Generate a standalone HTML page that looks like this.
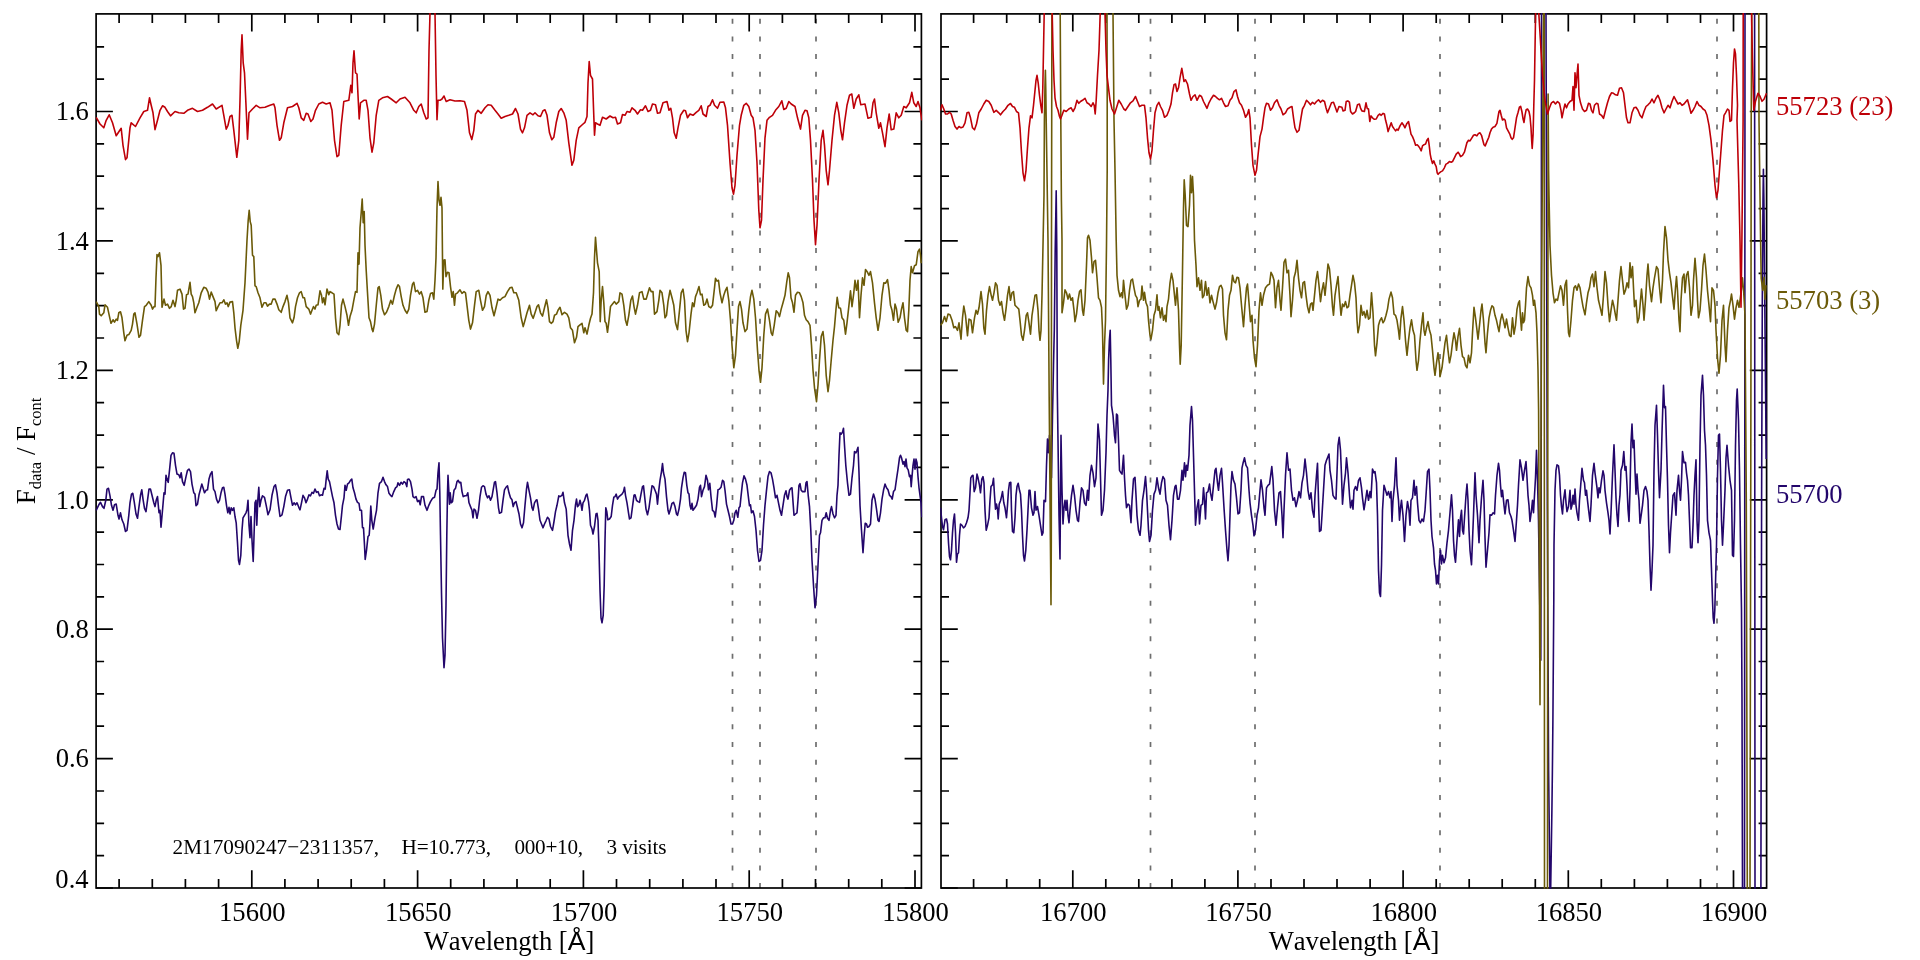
<!DOCTYPE html>
<html><head><meta charset="utf-8"><title>Spectra</title>
<style>
html,body{margin:0;padding:0;background:#fff;}
svg{display:block;}
text{font-family:"Liberation Serif","Times New Roman",serif;font-kerning:none;}
svg{will-change:transform;}
</style></head><body>
<svg width="1920" height="960" viewBox="0 0 1920 960">
<defs>
<clipPath id="c1"><rect x="95.3" y="13.1" width="826.90" height="875.70"/></clipPath>
<clipPath id="c2"><rect x="940.2" y="13.1" width="827.20" height="875.70"/></clipPath>
</defs>
<g stroke="#6e6e6e" stroke-width="1.7" stroke-dasharray="5 12.64" fill="none">
<line x1="732.5" y1="18.75" x2="732.5" y2="888.0"/>
<line x1="760" y1="18.75" x2="760" y2="888.0"/>
<line x1="816" y1="18.75" x2="816" y2="888.0"/>
<line x1="1150.5" y1="18.75" x2="1150.5" y2="888.0"/>
<line x1="1255" y1="18.75" x2="1255" y2="888.0"/>
<line x1="1440" y1="18.75" x2="1440" y2="888.0"/>
<line x1="1717" y1="18.75" x2="1717" y2="888.0"/>
</g>
<path d="M119.1 13.9V23M119.1 888V878.9M152.3 13.9V23M152.3 888V878.9M185.4 13.9V23M185.4 888V878.9M218.6 13.9V23M218.6 888V878.9M251.8 13.9V31.6M251.8 888V870.3M284.9 13.9V23M284.9 888V878.9M318.1 13.9V23M318.1 888V878.9M351.2 13.9V23M351.2 888V878.9M384.4 13.9V23M384.4 888V878.9M417.6 13.9V31.6M417.6 888V870.3M450.7 13.9V23M450.7 888V878.9M483.9 13.9V23M483.9 888V878.9M517 13.9V23M517 888V878.9M550.2 13.9V23M550.2 888V878.9M583.4 13.9V31.6M583.4 888V870.3M616.5 13.9V23M616.5 888V878.9M649.7 13.9V23M649.7 888V878.9M682.9 13.9V23M682.9 888V878.9M716 13.9V23M716 888V878.9M749.2 13.9V31.6M749.2 888V870.3M782.4 13.9V23M782.4 888V878.9M815.5 13.9V23M815.5 888V878.9M848.7 13.9V23M848.7 888V878.9M881.8 13.9V23M881.8 888V878.9M915 13.9V31.6M915 888V870.3M96.1 888H112.9M921.4 888H904.6M96.1 855.7H104.1M921.4 855.7H913.4M96.1 823.3H104.1M921.4 823.3H913.4M96.1 791H104.1M921.4 791H913.4M96.1 758.6H112.9M921.4 758.6H904.6M96.1 726.2H104.1M921.4 726.2H913.4M96.1 693.9H104.1M921.4 693.9H913.4M96.1 661.5H104.1M921.4 661.5H913.4M96.1 629.2H112.9M921.4 629.2H904.6M96.1 596.8H104.1M921.4 596.8H913.4M96.1 564.5H104.1M921.4 564.5H913.4M96.1 532.1H104.1M921.4 532.1H913.4M96.1 499.8H112.9M921.4 499.8H904.6M96.1 467.4H104.1M921.4 467.4H913.4M96.1 435.1H104.1M921.4 435.1H913.4M96.1 402.7H104.1M921.4 402.7H913.4M96.1 370.3H112.9M921.4 370.3H904.6M96.1 338H104.1M921.4 338H913.4M96.1 305.6H104.1M921.4 305.6H913.4M96.1 273.3H104.1M921.4 273.3H913.4M96.1 240.9H112.9M921.4 240.9H904.6M96.1 208.6H104.1M921.4 208.6H913.4M96.1 176.2H104.1M921.4 176.2H913.4M96.1 143.9H104.1M921.4 143.9H913.4M96.1 111.5H112.9M921.4 111.5H904.6M96.1 79.1H104.1M921.4 79.1H913.4M96.1 46.8H104.1M921.4 46.8H913.4M973.6 13.9V23M973.6 888V878.9M1006.7 13.9V23M1006.7 888V878.9M1039.7 13.9V23M1039.7 888V878.9M1072.8 13.9V31.6M1072.8 888V870.3M1105.8 13.9V23M1105.8 888V878.9M1138.8 13.9V23M1138.8 888V878.9M1171.9 13.9V23M1171.9 888V878.9M1204.9 13.9V23M1204.9 888V878.9M1237.9 13.9V31.6M1237.9 888V870.3M1271 13.9V23M1271 888V878.9M1304 13.9V23M1304 888V878.9M1337 13.9V23M1337 888V878.9M1370.1 13.9V23M1370.1 888V878.9M1403.1 13.9V31.6M1403.1 888V870.3M1436.2 13.9V23M1436.2 888V878.9M1469.2 13.9V23M1469.2 888V878.9M1502.2 13.9V23M1502.2 888V878.9M1535.3 13.9V23M1535.3 888V878.9M1568.3 13.9V31.6M1568.3 888V870.3M1601.3 13.9V23M1601.3 888V878.9M1634.4 13.9V23M1634.4 888V878.9M1667.4 13.9V23M1667.4 888V878.9M1700.5 13.9V23M1700.5 888V878.9M1733.5 13.9V31.6M1733.5 888V870.3M941 888H957.8M1766.6 888H1749.8M941 855.7H949M1766.6 855.7H1758.6M941 823.3H949M1766.6 823.3H1758.6M941 791H949M1766.6 791H1758.6M941 758.6H957.8M1766.6 758.6H1749.8M941 726.2H949M1766.6 726.2H1758.6M941 693.9H949M1766.6 693.9H1758.6M941 661.5H949M1766.6 661.5H1758.6M941 629.2H957.8M1766.6 629.2H1749.8M941 596.8H949M1766.6 596.8H1758.6M941 564.5H949M1766.6 564.5H1758.6M941 532.1H949M1766.6 532.1H1758.6M941 499.8H957.8M1766.6 499.8H1749.8M941 467.4H949M1766.6 467.4H1758.6M941 435.1H949M1766.6 435.1H1758.6M941 402.7H949M1766.6 402.7H1758.6M941 370.3H957.8M1766.6 370.3H1749.8M941 338H949M1766.6 338H1758.6M941 305.6H949M1766.6 305.6H1758.6M941 273.3H949M1766.6 273.3H1758.6M941 240.9H957.8M1766.6 240.9H1749.8M941 208.6H949M1766.6 208.6H1758.6M941 176.2H949M1766.6 176.2H1758.6M941 143.9H949M1766.6 143.9H1758.6M941 111.5H957.8M1766.6 111.5H1749.8M941 79.1H949M1766.6 79.1H1758.6M941 46.8H949M1766.6 46.8H1758.6" stroke="#000" stroke-width="1.7" fill="none"/>
<rect x="96.1" y="13.9" width="825.3" height="874.1" fill="none" stroke="#000" stroke-width="1.7"/>
<rect x="941.0" y="13.9" width="825.5999999999999" height="874.1" fill="none" stroke="#000" stroke-width="1.7"/>
<polyline clip-path="url(#c1)" points="96.2,510.3 98.8,504.8 100.5,502.3 102.5,506.6 104,508.3 105.8,500.3 107,489.1 108.5,488.3 110,495.8 111.5,505.3 113,510.3 114.5,504.8 116.2,504.1 118,515.3 119,519 120.5,512.8 122,519.8 123.8,524 125.5,531.5 127,530.3 128.8,515.3 130,502.8 131.5,494.1 132.8,493.3 134.2,501.6 136,514 137.5,518.3 139,506.6 140.5,495.3 141.8,489.8 143,499.1 144.5,508.3 146,511.6 147.5,500.3 149,489.1 150.5,489.1 152,495.3 153.8,502.8 155,506.6 156.2,500.3 157.5,496.6 159,512.8 160,510.3 161,527.3 162.5,510.3 164,492.8 165,494.1 166,475.3 167,479.1 168.2,482.3 169.5,470.3 171,455.3 172.5,452.8 174,453.3 175.5,465.3 177,474.1 178.8,474.8 180,477.8 181.2,472.8 182.5,481.6 184.2,485.3 186,476.6 187.5,470.3 189,469.1 190.5,471.6 192,484.1 193.8,492.8 195,494.1 196,505.8 197.5,504.1 199,494.8 200.5,489.1 201.8,484.1 203,487.8 204.5,492.8 206,490.3 207.5,489.8 209,479.1 210.5,474.1 212,471.6 213.5,489.1 215,491.6 216.5,499.1 218,502.8 219.5,500.3 221,492.8 222.5,487.8 223.8,487.3 225,494.1 226.5,505.3 227.8,512.8 229,507.3 230,514 231.2,507.8 232.5,510.3 233.8,507.8 235,516.5 236.2,522.8 237.5,542.8 238.5,560.3 239.5,564.5 240.8,555.3 242,530.3 243,517.8 244.5,515.3 246,512.8 247,509.8 248,500.3 249,525.3 250,537.8 251,516.5 252,540.3 253.2,561.5 254.2,530.3 255,502.8 256,500.3 256.8,525.3 257.8,500.3 258.8,487.3 259.8,506.6 261,500.3 262.5,495.8 264.5,497.3 266.2,505.3 268,514.8 270,509.8 272,495.3 274,486.6 275.5,484.8 277,492.8 278.5,505.3 280,516.5 282,514.8 283.8,506.6 285.5,496.6 287.5,490.3 289.5,489.8 291,497.8 292.5,505.3 294,502.8 295.5,504.8 297,502.8 298.8,507.3 300,509.8 301.5,502.8 303,495.3 304.5,497.8 306,502.8 307.5,499.1 309,494.8 310.5,495.8 312,492.3 313.5,493.3 315,489.1 316.5,492.3 318,491.6 319.5,495.8 321,494.8 322.5,495.3 324,488.3 325.2,489.1 326.2,479.1 327.2,470.8 328.2,479.1 329.5,481.6 331,489.1 332.5,496.6 334,502.8 335.5,515.3 337,524 338.5,529 340,529.5 341.5,515.3 342.5,505.3 344,497.8 345,485.3 346.2,490.3 347.5,484.1 349,482.8 350.5,480.3 351.8,479.1 353,487.8 354.5,492.8 356,499.1 357.5,502.3 359,503.3 360,510.3 361.5,510.3 362.5,527.8 363.5,527.8 364.5,545.3 365.2,559.5 366.5,550.3 368,536.5 369.2,535.3 370,522.8 370.8,506.1 371.8,520.3 373.2,529 375,517.8 376.5,510.3 378,492.8 379.5,483.3 381.5,481.6 383,477.3 384.5,481.6 386,484.8 387.5,486.6 389,493.3 390.5,495.3 392,496.6 393.8,491.6 395.5,487.8 397,486.6 398,482.8 399.5,485.3 401,482.3 402.5,484.1 404,481.6 405.5,482.8 406.8,486.6 407.5,479.6 409,479.1 410.5,481.6 412,489.1 413,496.6 414.5,497.8 416,496.6 417.5,501.6 419,500.3 420.2,504.8 421.5,496.6 423.5,496.6 425,505.3 427,510.3 428.8,505.3 430.5,501.6 432.5,498.3 434.5,497.3 436,490.3 437,489.1 438,472.8 439,462.8 439.8,492.8 440.5,535.3 441.5,592.8 442.5,637.8 444,667.8 445,655.3 446,605.3 446.8,535.3 447.5,492.8 448,475.3 448.8,490.3 449.5,504.1 450.2,492.8 451.2,502.8 452.5,501.6 454,490.3 455.5,488.3 457,481.6 458.2,480.3 459.5,482.8 460.8,482.3 462,491.6 463.2,496.6 465,495.8 466.5,495.8 467.8,492.8 469,502.8 470.5,506.6 472,510.3 473,517.8 474,509.1 475.5,510.3 477,518.3 478.5,510.3 480,496.6 481.5,487.3 483,485.8 484.5,486.6 486,494.1 487.5,497.8 489,495.8 490.5,500.3 492,496.6 493.5,487.8 494.5,482.1 495.5,481.6 497,492.8 498.5,507.8 499.5,513.3 501.5,512.3 503,500.3 504.5,489.8 506,487.3 507.5,485.8 509,492.8 510.5,497.8 512,499.8 513.2,506.6 514.5,502.8 516,501.6 517.5,507.8 519,514 520.5,524 522,527.8 523.5,522.8 525,505.3 526.5,489.1 527.5,482.3 529,490.3 530.5,497.8 532,507.8 533,510.3 534.5,502.8 536,500.3 537,499.8 538.5,509.1 540,520.3 541.5,524 543,527.8 544.5,524 546,520.8 547.5,517.3 549,519 550.5,526.5 552.5,530.3 554,521.5 555.5,511.6 557,505.3 558.8,495.8 560,496.6 562,495.3 563,492.3 564.5,502.8 566.2,509.1 568,535.3 569.5,544 571,550.3 572.5,530.3 574,520.3 575.5,504.8 576.5,499.1 577.5,506.6 578.8,505.3 580,500.3 581,504.1 582,510.3 583,502.8 584.5,500.3 586,495.3 587,494.1 588.5,501.6 589.5,510.3 590.5,525.3 592,529 593,534 594.5,526.5 596,514 597,513.3 598,520.3 599,550.3 600,590.3 601,617.8 602,622.8 603.2,615.3 604.2,585.3 605,540.3 605.8,507.8 606.8,511.6 607.8,519.8 609.5,519 611.2,516.5 612.5,505.3 613.8,497.3 615,496.6 616.2,494.1 617.5,499.1 619,496.6 620.5,495.3 622,494.1 623.5,491.6 624.5,487.3 625.5,495.3 627,502.8 628.5,512.8 629.5,519 631,517.8 632.5,506.6 634,495.3 635,494.8 636.5,500.3 638,501.6 639.5,502.3 641,494.1 642.5,486.6 643.5,485.8 644.5,495.3 646,509.1 647.5,514.8 649,507.8 650.5,496.6 652,485.8 653.5,486.6 655,490.3 656.5,494.1 657.5,504.1 658.8,490.3 660,480.3 661.5,471.6 662.5,463.6 663.5,472.8 665,479.1 666.5,496.6 668,510.3 669,514 670.5,509.1 672,503.3 673.5,502.3 675,506.6 676.5,514 677.5,515.3 679,509.1 680.5,499.1 681.5,487.8 683,477.8 684.2,472.3 685.5,472.8 686.8,485.3 688,492.8 689,494.1 690,505.3 691,509.1 692,503.3 693,510.3 694.5,508.3 696.5,505.3 698,499.1 699.5,487.3 700.5,485.3 701.5,496.6 703,490.3 704.5,486.6 706,475.3 707.5,480.3 708.5,489.8 709.8,483.3 711,496.6 712.5,510.3 714,511.6 715.2,517 716.5,506.6 718,489.8 719.5,489.1 721,487.3 722.5,480.3 723.8,481.6 725,490.3 726.5,504.1 728,510.3 729.5,516.5 731,524 732.5,524 733.8,520.3 735,512.8 736.2,510.3 737.8,517.3 739,507.8 740,506.6 741,496.6 742.5,482.8 744,475.8 745.5,479.1 747,485.3 748.5,497.8 749.5,505.8 750.5,504.8 751.5,512.8 753,510.8 754.5,516.5 756,530.3 757.5,550.3 759,561.5 760.5,560.3 762,550.3 763.5,525.3 765,505.3 766.5,490.3 768,476.6 769.5,471.6 771,472.8 772.5,479.1 774,487.8 775.5,497.8 777,495.3 778.5,502.8 780,510.3 781.5,515.3 783,505.3 784.5,495.3 786,490.8 787,496.6 788,499.1 789.5,490.3 791,488.3 792,487.8 793,501.6 794,515.3 795.5,514 797,512.8 798,500.3 799,485.3 800,483.6 801.2,490.3 802.5,491.6 803.8,491.6 805,491.6 806,482.8 807,481.6 808.2,495.3 809.5,506.6 810.8,530.3 812,560.3 813.5,585.3 815,607.8 816.5,595.3 818,565.3 819.5,535.3 820.5,532.8 822,520.3 823.5,517.8 825,517.8 826.2,512.8 827.5,518.3 829,520.3 830.5,510.3 831.5,506.6 833,514 834.5,517.8 836,515.3 837,495.3 838,485.3 839,455.3 840,432.8 841.2,434.1 842.5,432.3 843.5,428.3 844.5,445.3 845.8,465.3 847.5,482.8 849,495.3 850.5,494.1 852,477.8 853.5,465.3 854.5,451.6 856,452.8 857,450.3 858,447.3 859,472.8 860,505.3 861.5,530.3 863,552.8 864.2,535.3 865.2,523.3 866.5,524 867.5,527.3 869,526.5 870.5,524 872,500.3 873.5,494.1 875,499.1 876.5,509.1 878,520.3 879,521.5 880.5,512.8 882,499.1 883.5,490.3 885,484.1 886.5,487.8 888,489.8 889.5,495.3 891,496.6 892.2,499.1 893.5,491.6 895,489.8 896.5,479.1 898,469.1 899.5,457.8 900.5,455.3 901.5,457.8 903,464.1 904,461.6 905,466.6 906,459.1 907,467.8 908.2,469.8 909.5,476.6 910.5,475.3 911.2,486.6 912,476.6 913,465.3 914,459.1 915,469.1 916,459.1 917,462.8 918,476.6 919,487.8 920,495.3 921,502.8 921.8,517.3" fill="none" stroke="#23066b" stroke-width="1.6" stroke-linejoin="round" stroke-linecap="butt"/>
<polyline clip-path="url(#c2)" points="940.5,507.8 941.5,517.8 942.5,526.5 943.5,529.8 945,519.8 946.5,519 947.5,524 948.5,542.8 949.5,556.5 950.5,559.8 951.5,550.3 952.5,532.8 953.5,520.3 954.5,514 955.5,532.8 956.5,562.3 957.5,554 958.5,552.8 959.5,535.3 960.5,524 962,525.3 963.5,527.8 965,526.5 966.5,522.8 968,517.8 969,510.3 970,492.8 970.8,477.8 972,475.8 973,475.3 974.2,491.6 975.5,487.8 977,474.1 978,477.8 979.5,485.3 980.5,492.8 981.8,479.1 983,476.6 984,482.8 985,510.3 986.2,530.3 987.5,525.3 989,517.8 990,500.3 991,486.6 992.5,484.8 993.5,478.3 994.5,495.3 995.5,509.1 996.5,504.1 997.5,509.1 998.2,519 999.2,504.1 1000.5,500.8 1001.5,496.6 1002.5,491.6 1003.8,502.8 1005,507.8 1006.5,517.8 1007.5,505.3 1008.5,490.3 1009.5,482.8 1010.8,482.3 1011.5,510.3 1012.5,531.5 1013.8,532.8 1015,517.8 1016,495.3 1017,486.6 1018.2,483.3 1019.5,490.3 1020.5,494.1 1021.5,510.3 1022.5,535.3 1023.5,555.3 1024.5,561 1025.8,550.3 1027,530.3 1028,510.3 1029,490.3 1030,490.3 1031.5,507.8 1033,515.3 1034,512.8 1035,491.6 1036,510.3 1037.5,506.6 1039,515.3 1040.5,525.3 1042,535.3 1043,532.8 1044,500.3 1045.5,501.6 1046.5,465.3 1047.5,439.1 1048.5,452.8 1049.5,435.3 1050.5,470.3 1051.5,477.8 1052.5,415.3 1053.5,365.3 1054.3,330.3 1055.2,250.3 1056.2,190.9 1056.8,250.3 1057.3,390.3 1058,440.3 1059,515.3 1060,559 1061,435.3 1062,490.3 1063,524 1064,507.8 1065,500.3 1066,510.3 1067,500.3 1068,515.3 1069,522.8 1070,510.3 1071.5,495.3 1073,485.3 1074.5,495.3 1076,510.3 1077.5,520.3 1078.5,521.5 1080,502.8 1081.5,487.8 1083,490.3 1084.5,502.8 1086,505.3 1087.5,490.3 1088.5,500.3 1090,475.3 1091.5,465.3 1093,472.8 1094.5,486.6 1096,477.8 1097,452.8 1098,424.1 1099.5,440.3 1100.5,477.8 1101.5,515.3 1103,510.3 1104.5,490.3 1106,452.8 1107,415.3 1108,390.3 1108.6,360.3 1109.4,340.3 1110.2,330.3 1110.8,360.3 1111.5,405.3 1113,415.3 1114.5,435.3 1115.5,442.8 1116.5,414.1 1117.5,415.3 1118.5,440.3 1119.5,470.3 1121,472.8 1122,474.1 1123.5,455.3 1124.5,477.8 1125.5,495.3 1126.5,507.8 1128,504.1 1129.5,505.3 1131,522.8 1132,500.3 1133.5,479.1 1135,477.3 1136,495.3 1137,515.3 1138.5,530.3 1140,535.3 1141,525.3 1142.5,500.3 1144,490.3 1145.5,476.6 1146.5,490.3 1147.5,510.3 1148.5,530.3 1149.5,541.5 1151,535.3 1152.5,510.3 1154,494.1 1155.5,490.3 1157,477.8 1158.5,487.8 1160,494.1 1161.5,482.8 1163,476.6 1164.5,479.1 1166,500.3 1167.5,505.3 1169,525.3 1170.5,539.8 1172,520.3 1173.5,495.3 1175,486.6 1176,485.3 1177.5,499.1 1179,499.1 1180.5,490.3 1182,470.3 1183,480.3 1184.5,462.8 1185.5,476.6 1186.5,465.3 1187.5,470.3 1189,455.3 1190,425.3 1191.5,406.6 1192.5,420.3 1193.5,455.3 1194.5,490.3 1195.5,525.3 1197,507.8 1198.5,499.8 1199.5,524 1201,505.3 1202.5,504.1 1203.5,487.8 1204.5,500.3 1205.5,519 1206.5,492.8 1208,491.6 1209.5,484.1 1210.5,492.8 1212,500.3 1213.5,485.3 1215,470.3 1216,468.3 1217.5,482.8 1218.5,490.3 1220,475.3 1221.5,468.3 1222.5,482.8 1224,507.8 1225.5,530.3 1227,550.3 1228,560.8 1229,545.3 1230,515.3 1231,485.3 1232,471.6 1233.5,480.3 1235,484.1 1236.5,497.8 1238,514 1239.5,512.8 1241,490.3 1242,467.8 1243,463.3 1244.5,457.8 1246,465.3 1247.5,467.8 1249,490.3 1250,502.8 1251.5,515.3 1253,525.3 1254,535.8 1255.5,530.3 1257,515.3 1258.5,507.8 1260,490.3 1261,479.8 1262.5,490.3 1264,507.8 1265,515.3 1266.5,487.8 1268,485.3 1269.5,484.1 1271,472.8 1271.8,466.6 1273,480.3 1274.5,510.3 1276,525.3 1277.5,507.8 1279,492.8 1280.5,491.6 1282,515.3 1283,537.8 1284,510.3 1285.5,475.3 1287,452.8 1288.5,470.3 1290,469.1 1291.5,490.3 1293,500.3 1294.5,497.8 1296,506.6 1297.5,500.3 1299,491.6 1300.5,497.8 1302,482.8 1303.5,475.3 1305,459.1 1306.5,472.8 1308,490.3 1309.5,499.1 1311,492.8 1312.5,510.3 1314,517.3 1315,495.3 1316.5,475.3 1317.5,463.3 1318.5,500.3 1319.5,531.5 1321,530.3 1322,515.3 1323.5,490.3 1325,465.3 1326.5,460.3 1328,456.6 1329,454.1 1330,470.3 1331.5,480.3 1333,495.3 1334.5,497.8 1336,499.1 1337,472.8 1338,445.3 1339.2,437.3 1340.5,450.3 1341.5,475.3 1342.5,504.1 1344,485.3 1345.5,472.8 1346.5,457.8 1348,472.8 1349.5,495.3 1350.5,507.8 1352,500.3 1353,509.1 1354,490.3 1355.5,486.6 1357,490.3 1358.5,480.3 1360,477.8 1361.5,487.8 1362.5,497.8 1364,509.8 1365.5,500.3 1367,490.3 1368.5,500.3 1370,491.6 1371,497.8 1372.5,469.1 1374,472.8 1375,471.6 1376.5,482.8 1377.5,515.3 1378.5,570.3 1379.5,592.8 1380.5,596.5 1381.5,565.3 1382.5,510.3 1384,485.3 1385.5,490.3 1387,495.3 1388.5,491.6 1390,497.8 1391,491.6 1392,521.5 1393,500.3 1394.5,485.3 1396,457.8 1397,485.3 1398.5,500.3 1399.5,520.3 1400.5,507.8 1401.5,500.3 1403,515.3 1404.5,541.5 1406,515.3 1407.5,501.6 1409,510.3 1410,525.3 1411,500.3 1412.5,497.8 1414,480.3 1415,495.3 1416.5,486.6 1417.5,502.8 1419,520.3 1420.5,522.8 1422,519 1423.5,521.5 1425,510.3 1426,495.3 1427.5,471.6 1429,469.1 1430,490.3 1431,520.3 1432,536.5 1433.5,547.8 1434.5,564 1435.5,570.3 1436.5,584 1437.5,575.3 1438.5,584 1439.5,560.3 1440.5,550.3 1441.5,564 1442.5,555.3 1444,562.8 1445.5,557.8 1447,542.8 1448.5,530.3 1450,512.8 1451.5,494.8 1452.5,510.3 1453.5,540.3 1454.5,555.3 1455.5,562.3 1457,540.3 1458.5,519.8 1459.5,536.5 1460.5,517.8 1461.5,510.3 1462.5,530.3 1463.5,534 1464.5,517.8 1466,495.3 1467,484.1 1468,500.3 1469,530.3 1470,550.3 1471.5,564.8 1472.5,540.3 1473.5,515.3 1475,472.8 1476,495.3 1477.5,515.3 1479,542.8 1480,520.3 1481.5,497.8 1483,480.3 1484,500.3 1485,537.8 1486,567.3 1487.5,550.3 1489,532.8 1490,514.8 1491.5,515.3 1493,512.8 1494.5,514 1495.5,495.3 1497,475.3 1498.5,463.3 1499.5,470.3 1500.5,485.3 1501.5,496.6 1502.5,490.3 1504,505.3 1505,514 1506.5,500.3 1508,499.8 1509.5,512.8 1511,516.5 1512,520.3 1513.5,530.3 1515,541.5 1516.5,520.3 1517.5,505.3 1518.5,485.3 1520,459.8 1521.5,467.8 1523,480.3 1524.5,470.3 1526,461.6 1527,477.8 1528,495.3 1529,505.3 1530,521.5 1531.5,510.3 1532.5,500.3 1533.5,512.8 1534.5,495.3 1535.5,477.8 1536.5,450.3 1537.5,480.3 1538.5,520.3 1540.3,640.3 1540.8,660.3 1541.2,500.3 1541.5,13.3 1541.6,-79.7 1545.9,-79.7 1546,13.3 1547.3,500.3 1548.6,770.3 1549.9,887.3 1550,960.3 1550.6,960.3 1550.7,887.3 1551.9,810.3 1552.4,770.3 1552.9,720.3 1553.8,600.3 1554,545.3 1555,490.3 1556,470.3 1557,464.8 1558.5,465.8 1559.5,475.3 1560.5,495.3 1561.5,506.6 1562.5,514 1563.5,500.3 1565,489.8 1566,502.8 1567,511.6 1568.5,506.6 1570,490.3 1571,509.1 1572,505.3 1573,495.3 1574,504.1 1575,489.1 1576,505.3 1577,512.8 1578.5,520.3 1579.5,500.3 1580.5,487.8 1582,468.3 1583.5,480.3 1584.5,482.8 1585.5,495.3 1586.5,490.3 1587.5,500.3 1588.5,509.1 1590,521.5 1591,505.3 1592.5,475.3 1594,463.3 1595,472.8 1596,480.3 1597,487.8 1598,497.8 1599,487.8 1600,492.8 1601.5,480.3 1603,470.8 1604,475.3 1605,490.3 1606.5,502.8 1608,512.8 1609,520.3 1610,534 1611,512.8 1612.5,475.3 1614,444.8 1615,470.3 1616,497.8 1617,515.3 1618,526.5 1619,505.3 1620,494.8 1621,470.3 1622.5,465.3 1623.8,451.6 1625,470.3 1626,466.6 1627,485.3 1628,509.1 1629,521.5 1630,490.3 1631,442.8 1632,424.1 1633,447.8 1634,440.3 1635,470.3 1636,494.1 1637,474.1 1638,490.3 1639,500.3 1640,523.3 1641.5,512.8 1642.5,505.3 1644,490.3 1645.5,486.6 1647,491.6 1648,500.3 1649,530.3 1650,565.3 1651,590.3 1652,570.3 1653,545.3 1654,470.3 1655,425.3 1656.5,405.3 1657.5,435.3 1658.5,470.3 1659.5,497.8 1661,470.3 1662,432.8 1663.5,385.3 1664.5,407.8 1665.5,406.6 1666.5,445.3 1667.5,480.3 1668.5,525.3 1669.5,552.8 1670.5,532.8 1672,510.3 1673,495.3 1674.5,492.8 1676,515.3 1677,490.3 1678.5,475.3 1679.5,490.3 1680.5,500.3 1681.5,480.3 1682.5,451.6 1684,462.8 1685.5,462.3 1686.5,472.8 1687.5,480.3 1688.5,495.3 1689.5,520.3 1690.5,547.8 1692,547.8 1693,525.3 1694,495.3 1695,475.3 1696,459.8 1697,520.3 1698,542.8 1699,520.3 1700,445.3 1701,395.3 1702.5,375.3 1703.5,395.3 1704.5,430.3 1705.5,445.3 1706.5,475.3 1707.5,520.3 1709,532.8 1710.5,540.3 1711.5,570.3 1712.5,600.3 1713.2,617.8 1714,623.3 1714.8,610.3 1716.5,545.3 1717.5,475.3 1718.5,435.3 1719.5,434.1 1720.5,470.3 1721.5,520.3 1722.5,545.3 1723.5,525.3 1725,490.3 1726,457.8 1727,445.3 1728.5,465.3 1730,480.3 1731.5,490.3 1732.5,555.3 1733.5,556.5 1734.5,520.3 1735.5,445.3 1736.5,400.3 1737.2,389.1 1738.5,420.3 1739.5,470.3 1740.5,545.3 1741.5,610.3 1742,700.3 1742.5,887.3 1742.6,960.3 1744.4,960.3 1744.5,887.3 1744.8,400.3 1745,13.3 1745.1,-79.7 1754.5,-79.7 1754.6,13.3 1754.8,500.3 1755,887.3 1755.2,960.3 1760.8,960.3 1760.9,887.3 1761.6,500.3 1762.3,300.3 1763,200.3 1763.4,169.3 1763.9,200.3 1764.6,280.3 1765.4,370.3 1766.2,459.1" fill="none" stroke="#23066b" stroke-width="1.6" stroke-linejoin="round" stroke-linecap="butt"/>
<polyline clip-path="url(#c1)" points="96.2,301.6 98.8,306.6 99.5,314.1 101.2,315.8 103.8,312.8 105,304.8 107.5,307.3 109.5,316.6 111,323.3 113,319.8 114.5,322.1 116.2,319.1 117.5,320.3 118.8,312.8 120.5,311.8 122,317.8 123.8,332.8 125,340.8 127,335.3 128.8,334.6 131.2,330.3 132.5,324.1 133.8,314.1 135,312.8 137,324.1 139,337.3 140.5,335.3 142.5,320.3 144.5,306.6 146.2,305.3 148.8,301.6 151.2,305.3 152.5,309.1 154,306.6 155,306.6 156,277.8 157,254.6 158,256.6 159.5,252.8 161,265.3 162,307.3 164,299.1 165.5,305.3 167.5,304.1 169.5,308.3 171.2,306.6 173,300.3 175,306.6 176.2,300.3 177.5,290.3 180,289.1 182,294.1 183.5,309.1 185,308.3 186.5,294.8 188,294.1 190,282.3 191.2,294.1 192.5,296.6 193.8,302.8 195,312.8 197,307.3 198.8,302.8 201.2,292.8 203.8,287.3 206.2,288.3 208,292.1 209.5,299.1 211.2,292.1 213,296.6 215,301.6 216.2,310.8 218,306.6 220,302.8 222,302.8 223.8,299.8 225.5,304.1 227,302.8 228.2,306.6 230,302.1 232.5,301.6 233.8,312.8 235,327.8 236.5,340.3 237.8,348.3 239.2,341.6 240.8,325.3 243,310.3 245,282.8 247,240.3 248.2,220.3 249.2,210.3 250.2,221.6 251.2,225.3 252.5,255.3 253.8,256.6 255,285.8 256.2,286.6 258,292.8 260,297.8 262,307.3 264,302.8 266,302.8 267.5,306.1 269.5,304.1 271.2,304.1 273,299.1 275,299.1 277,304.1 278.8,309.8 281.2,312.3 283,306.6 285,301.6 287,295.3 288.5,302.8 290,317.8 292.5,322.8 294,317.8 295.5,306.6 297.5,297.8 299.5,292.8 301.2,291.6 303,297.8 304.5,297.8 306.2,306.6 308.8,309.1 310.5,314.1 312,310.3 313.5,306.6 315,309.1 316.2,305.3 318,304.8 320,290.8 321.5,295.3 322.5,302.8 323.8,297.8 325,304.8 327,289.1 328.8,294.8 330,291.6 332,292.8 334,294.1 335.5,317.8 337,332.8 338.8,334.6 340,325.3 341.5,305.3 343,299.1 345,306.6 347,315.3 348.5,325.3 350,316.6 352,310.3 353.8,300.3 355.5,291.6 357,292.3 358,252.8 359,264.1 360,227.8 361.2,212.8 362.2,199.1 363.2,222.8 364.2,211.6 365,245.3 366.2,270.3 367.5,292.8 369,317.8 370.5,321.6 372,329.1 373,331.6 374.5,324.1 376.5,302.8 378,287.8 379.2,286.6 380.8,295.3 382.5,309.1 384.5,314.8 386.5,312.3 388.8,306.6 390.8,300.3 392.5,304.1 394.5,295.3 396.2,289.1 398,284.8 399.5,286.6 401.2,296.6 403,305.3 405,310.3 407,313.3 408.8,309.1 410.5,295.3 412.5,284.1 413.8,282.3 415.5,291.6 417.5,290.3 419.5,294.1 421.2,291.6 423,297.8 425,312.3 427,311.6 428.8,300.3 430.5,293.6 432.5,292.8 433.8,299.1 435,280.3 436,257.8 437,207.8 438,181.6 439,200.3 440,205.3 441,197.3 442,207.8 442.8,289.1 443.8,260.3 445,259.8 446,276.6 447.5,272.3 449,272.8 450.5,286.6 452,297.3 453.2,291.6 454.5,305.3 455.5,294.1 457.5,292.8 460,289.8 462,293.3 464,291.6 465.5,292.8 467,305.3 468.8,320.3 470.5,329.1 472.5,322.8 474.5,305.3 476.2,291.6 478.8,290.3 480.5,300.3 482.5,310.3 484.5,306.6 486.2,295.3 488,291.6 490,295.3 492,307.8 494,315.8 496,307.8 498,299.1 500,300.3 502.5,297.8 505,296.6 507.5,291.6 510,287.8 512,287.3 513.8,292.8 516.2,292.8 518.8,300.3 521.2,317.8 523.2,326.6 525,320.3 527,312.8 529.5,305.3 531.2,314.1 533.2,318.3 535,312.8 537,306.6 538.5,304.8 540.5,312.8 542.5,316.1 544.5,307.8 546.5,299.8 548,307.8 549.5,321.6 551.2,323.3 553,321.6 554.5,315.3 556.5,314.1 558,310.3 560,307.3 562,314.8 564.5,312.3 567,314.1 568.8,317.8 570.5,327.8 572.5,330.3 574.5,342.8 576.5,337.3 578,326.6 580,324.8 582,323.3 583.8,332.8 585,327.8 587,334.1 588.8,325.3 590.5,318.3 592,314.1 593.5,292.8 594.5,257.8 595.5,237.3 596.5,250.3 597.5,262.8 599.2,271.6 600.2,321.6 601.2,300.3 602.5,286.6 603.8,302.8 605,321.6 606.2,323.3 607.5,332.3 609,320.3 610.5,306.6 612.5,304.1 614.5,301.6 616.2,304.1 618.8,301.6 620,292.8 622,294.1 623.8,305.3 625.5,320.3 627,325.3 628.8,315.3 630.8,300.3 632.5,296.1 634,306.6 635.5,314.1 637.5,305.3 639.5,292.8 642,291.6 643.8,299.1 646.2,299.1 648,292.8 649.5,287.8 651.2,291.6 653,291.6 654.5,314.1 657,311.6 658.8,300.3 660,290.3 662,292.8 663.8,305.3 665,317.8 666.5,315.3 668,301.6 670,290.3 672,297.8 673.8,305.3 675.5,322.8 677.5,329.6 679.5,310.3 681.2,292.8 683,289.1 684.5,300.3 686,330.3 687.5,341.6 689,332.8 691,314.1 692.5,302.8 694,306.6 695.5,296.6 697,292.8 699,286.6 700.5,294.8 702,294.1 703.8,305.3 705.5,304.1 707,299.1 708.8,306.6 710.8,307.8 712.5,305.3 714.5,287.8 715.5,278.3 717,281.1 718.5,280.3 720,292.8 722,302.8 723.8,295.3 725.5,290.3 727,287.3 728.8,300.3 730.5,320.3 732,345.3 733.8,367.8 735.5,355.3 737,330.3 738.5,306.6 740,301.6 741.5,309.1 743,322.8 745,331.6 747,329.1 748.8,310.3 750.5,296.6 752,290.3 753.8,299.1 755.5,317.8 757.5,350.3 759,370.3 760.5,382.3 762,367.8 763.8,335.3 765.5,314.1 767.5,309.1 769.5,320.3 771.2,332.8 772.5,335.3 774.2,325.3 776.2,310.8 778,312.8 779.5,316.6 781.2,309.1 783,302.8 785,295.3 786.8,281.6 788.2,272.8 789.5,277.8 791,297.8 792.5,302.8 794,312.3 795.5,295.3 797.5,292.3 799.5,292.8 801.2,296.6 803,302.8 804.5,315.3 806.2,319.8 808,321.6 810,325.3 811.5,345.3 813,370.3 814.5,387.8 816.5,401.6 818,385.3 819.5,360.3 821.2,336.6 823,331.6 824.5,345.3 826.2,375.3 828,391.6 829.5,380.3 831.2,360.3 833,340.3 834.5,326.6 836,309.1 837.2,297.3 838.8,307.8 840.5,308.3 842,317.8 843.8,320.3 845.5,334.1 847,322.8 848.8,306.6 850.5,290.8 852,306.6 853.8,292.8 855,280.3 856.5,290.3 858,280.3 859.5,317.8 861,295.3 862.5,277.8 864,285.3 865.5,269.6 867.5,272.3 869,275.3 870.5,271.6 872.5,282.8 874.5,302.8 876.2,317.8 878,330.3 880,317.8 882,295.3 883.8,282.8 885.5,283.3 887.5,279.6 889,290.3 890.5,305.3 892,310.3 893.5,320.3 895,304.1 896.5,309.1 898.2,322.3 900,317.8 901.5,309.1 903,302.8 904.5,317.8 906.2,330.3 907.5,331.6 908.8,310.3 910,280.3 911.2,266.6 912.5,272.8 914.5,265.8 916.2,264.8 918,251.6 919.5,249.1 920.5,255.3 921.2,263.3" fill="none" stroke="#6b5a08" stroke-width="1.6" stroke-linejoin="round" stroke-linecap="butt"/>
<polyline clip-path="url(#c2)" points="940.5,325.3 942.5,322.8 944.5,316.6 946.2,321.6 948,314.1 950,314.8 952,320.3 953.8,327.8 955.5,326.6 957.5,330.3 959,322.8 961,339.1 962.5,317.8 963.8,306.1 965.5,315.3 967.5,335.8 969,319.1 971,320.3 972.5,332.8 974.5,317.8 976,310.3 977.5,314.1 979,307.8 981,291.6 982.5,304.1 983.8,327.8 985,334.1 986.5,310.3 988,295.3 989.5,286.6 991.2,295.3 992.5,300.3 994,292.8 995.5,282.8 997,285.3 998.5,300.3 1000,305.3 1001.5,301.6 1003,312.8 1004.5,320.3 1006,309.1 1007.5,295.3 1009,286.6 1010.5,300.3 1012,292.8 1013.5,291.6 1015,305.3 1017,307.3 1018.8,309.1 1020,320.3 1021.5,335.3 1023,340.3 1024.5,330.3 1026.2,315.3 1027.5,312.8 1029,322.8 1030.5,334.1 1032,315.3 1033.5,305.3 1035,295.3 1036.5,294.8 1038,310.3 1039,330.3 1040,340.3 1041,330.3 1042,295.3 1043,245.3 1044,195.3 1044.4,120.3 1045,85.3 1045.4,70.3 1045.8,90.3 1046.2,120.3 1048,240.3 1049.2,400.3 1050.4,540.3 1051,604.8 1051.3,540.3 1051.5,240.3 1051.9,13.3 1052,-79.7 1060,-79.7 1060.2,13.3 1060.8,120.3 1061.4,200.3 1062,240.3 1062,312.8 1063.5,302.8 1065,289.8 1066.5,292.8 1068,299.1 1069.5,294.1 1071,300.3 1072.5,297.8 1074,310.3 1075,321.6 1076.5,314.1 1078,300.3 1079.5,291.6 1081,289.8 1082.5,310.3 1083.5,315.3 1085,300.3 1086.5,265.3 1087.5,237.8 1088.5,235.3 1090,240.3 1091.5,257.8 1092.5,272.8 1094,261.6 1095.5,260.3 1097,277.8 1098.5,297.8 1100,300.3 1101.5,307.3 1102.5,330.3 1103.5,384.1 1104.5,345.3 1105.5,320.3 1106.5,245.3 1107.2,170.3 1107.2,100.3 1107,13.3 1106.9,-79.7 1112.9,-79.7 1113,13.3 1114,120.3 1115,170.3 1116.2,240.3 1117,275.3 1118.5,290.3 1120,296.6 1121.5,292.8 1122.5,297.8 1123.5,280.3 1125,295.3 1126.5,309.1 1128,305.3 1129.5,290.3 1131,280.3 1132.5,279.1 1134,287.8 1135.5,295.3 1137,297.8 1138,306.6 1139.5,300.3 1141,299.1 1142,286.1 1143.5,300.3 1144.5,292.3 1146,302.8 1147.5,306.6 1148.5,320.3 1150,335.3 1151,339.1 1152.5,330.3 1154,315.3 1155.5,310.3 1157,294.8 1158,310.3 1159,306.6 1160.5,317.8 1162,307.8 1163.5,320.3 1165,315.3 1166,321.6 1167,306.6 1168.5,299.1 1170,282.8 1171.5,273.3 1173,280.3 1174.5,295.3 1175.5,305.3 1177,287.8 1178.5,310.3 1179.5,345.3 1180.2,364.1 1181.2,345.3 1182.5,270.3 1183.5,207.8 1184.2,179.8 1185.2,195.3 1186.5,225.3 1188,226.6 1189.5,205.3 1190.5,175.3 1191.5,192.8 1192.5,176.6 1193.5,195.3 1194.5,240.3 1196,265.3 1197,286.6 1198.5,277.8 1200,290.3 1201.5,280.3 1202.5,297.8 1204,295.3 1205.5,281.6 1207,295.3 1208.5,287.8 1210,302.8 1211.5,295.3 1213,301.6 1215,309.1 1216.5,302.8 1218,292.8 1219.5,286.6 1221,285.3 1222.5,289.1 1223.5,315.3 1225,332.8 1226.5,339.8 1228,310.3 1229.5,295.3 1231,290.3 1232.5,275.3 1234,281.6 1235.5,282.8 1237,277.3 1238.5,277.8 1240,287.8 1241.5,305.3 1243.5,326.6 1245,305.3 1246.5,287.8 1247.5,284.1 1249,302.8 1250.5,321.6 1252,315.3 1253,340.3 1254.5,357.8 1256,366.6 1257.5,345.3 1259,310.3 1260.5,292.8 1262,305.3 1263.5,295.3 1265.5,287.8 1267.5,285.3 1269.5,284.1 1271,272.3 1272.5,275.3 1274,280.3 1275.5,307.8 1277,287.8 1278.5,280.3 1280,300.3 1281,310.3 1282.5,287.8 1284,262.3 1285.5,259.1 1287,272.8 1288.5,270.3 1290,295.3 1291,316.6 1292.5,300.3 1294,277.8 1295.5,272.3 1297,260.3 1298.5,277.8 1300,290.3 1301.5,297.8 1303,282.8 1304.5,281.6 1306,295.3 1307.5,306.6 1309,312.8 1310.5,304.1 1312,302.8 1313,310.3 1314.5,295.3 1316,280.3 1317.5,271.6 1319,285.3 1320.5,301.6 1322,290.3 1323.5,282.8 1325,295.3 1326.5,280.3 1328,264.1 1329.5,269.1 1331,285.3 1332.5,306.6 1333.5,315.3 1335,295.3 1336.5,285.3 1338,276.6 1339.5,297.8 1341,315.3 1342.5,304.1 1344,306.6 1345.5,301.6 1347,307.8 1348.5,306.6 1350,295.3 1351.5,285.3 1353,275.3 1354.5,282.8 1356,297.8 1357,320.3 1358,332.8 1359.5,325.3 1361,305.3 1362.5,315.3 1364,311.6 1365.5,317.8 1367,310.3 1368.5,319.1 1370,317.8 1371.5,292.8 1373,312.8 1374.5,345.3 1375.5,355.8 1377,342.8 1378.5,325.3 1380,320.3 1381.5,317.8 1383,322.8 1384.5,320.3 1386,315.3 1387.5,309.1 1389,299.1 1391,292.1 1392.5,297.8 1394,314.1 1395.5,315.3 1397,320.3 1398.5,330.3 1399.5,339.1 1401,317.8 1402.5,306.6 1404,320.3 1405.5,340.3 1407,355.3 1408.5,340.3 1410,327.8 1411.5,319.8 1413,330.3 1414.5,335.3 1416,360.3 1417,370.3 1418.5,360.3 1420,340.3 1421.5,325.3 1423,312.8 1424,330.3 1425,335.3 1426.5,327.8 1428,321.6 1429.5,330.3 1431,335.3 1432.5,350.3 1434,367.8 1435,375.3 1436.5,362.8 1438,352.8 1439.5,365.3 1440,376.6 1442,367.8 1443.5,355.3 1445,342.8 1446.5,335.3 1448,350.3 1449.5,362.8 1451,355.3 1452.5,342.8 1454,332.8 1455.5,340.3 1456.5,350.3 1458,336.6 1459.5,328.3 1461,345.3 1462.5,356.6 1464,357.8 1465.5,365.3 1467,367.8 1468.5,355.3 1470,362.8 1471.5,352.8 1472.5,332.8 1474,307.3 1475.5,317.8 1477,330.3 1478,339.1 1479.5,325.3 1481,310.3 1482,304.1 1483.5,320.3 1485,342.8 1486,352.8 1487.5,332.8 1489,317.8 1490.5,310.3 1492,305.8 1493.5,307.3 1495,315.3 1496.5,320.3 1498,327.3 1499,331.6 1500.5,320.3 1502,314.1 1503.5,320.3 1505,327.8 1506.5,319.1 1508,327.8 1509.5,335.3 1511,336.6 1512.5,317.8 1514,334.1 1515.5,325.3 1517,309.1 1518.5,302.8 1519.5,300.8 1520.5,317.8 1521.5,330.3 1522.5,312.8 1523.5,322.8 1524.5,320.3 1525.5,305.3 1526.5,287.8 1528,276.6 1529.5,285.3 1531,287.8 1532.5,295.3 1533.5,305.3 1534.5,300.3 1536,312.8 1537,332.8 1538,370.3 1538.6,410.3 1539.3,560.3 1540,704.8 1540.6,560.3 1541.5,300.3 1543.5,13.3 1543.7,-79.7 1544,-79.7 1544.2,13.3 1544.5,887.3 1544.6,960.3 1547.3,960.3 1547.5,887.3 1547.9,300.3 1548.1,94 1548.6,170.3 1549,195.3 1550,245.3 1551.5,275.3 1553,292.8 1554.5,302.8 1556,299.1 1557.5,300.3 1559,292.8 1560.5,285.8 1562,290.3 1563.5,305.3 1565,285.3 1566.5,280.3 1567.5,310.3 1568.5,332.8 1569.5,336.6 1571,320.3 1572.5,300.3 1574,287.8 1575.5,285.8 1577,290.3 1578.5,284.1 1580,287.8 1581.5,297.8 1583,306.6 1585,314.8 1586.5,302.8 1588,292.8 1589.5,287.8 1591,277.8 1592.5,274.1 1594,286.6 1595.5,271.6 1597,287.8 1598.5,300.3 1600,306.6 1602,315.3 1603.5,295.3 1605,271.6 1606.5,282.8 1608,305.3 1609.5,321.6 1611,310.3 1612.5,300.3 1614,306.6 1615.5,315.3 1616.5,320.3 1618,300.3 1619.5,280.3 1621,266.6 1622.5,280.3 1624,294.1 1625.5,290.3 1627,282.8 1628.5,287.8 1630,262.8 1631,277.8 1632.5,266.6 1633.5,287.8 1634.5,306.6 1636,300.3 1637.5,322.8 1639,317.8 1640.5,300.3 1641.5,289.1 1643,305.3 1644,320.3 1645.5,300.3 1647,275.3 1648,264.1 1649.5,285.3 1651.5,301.6 1653,287.8 1654.5,277.8 1656.5,266.6 1658,269.1 1659.5,287.8 1661,302.8 1662.5,280.3 1663.5,252.8 1665,226.6 1666.5,237.8 1668,260.3 1669.5,272.8 1671,282.8 1672.5,296.6 1674,309.1 1675.5,287.8 1676.5,276.6 1677.5,290.3 1679,320.3 1680,331.6 1681,300.3 1682.5,277.8 1684,274.1 1685,292.8 1686.5,275.3 1688,271.6 1689.5,287.8 1691,315.3 1692.5,305.3 1693.5,280.3 1695,258.3 1696.5,277.8 1697.5,300.3 1698.5,317.8 1700,310.3 1701.5,290.3 1703,265.3 1704.5,254.1 1706,270.3 1707.5,290.3 1709,305.3 1710.5,321.6 1712,287.8 1713.5,290.3 1715,305.3 1716,330.3 1717.5,357.8 1719,373.3 1720.5,355.3 1722,320.3 1723.5,305.3 1725,345.3 1726,361.6 1727.5,330.3 1729,307.8 1730.5,300.3 1731.5,294.1 1733,305.3 1734.5,319.1 1736,307.8 1737.5,300.3 1739,307.3 1740,300.3 1741.3,290.3 1742.5,277.8 1743.7,292.3 1745,315.3 1746.3,500.3 1747.3,887.3 1747.4,960.3 1749.9,960.3 1750,887.3 1750.9,400.3 1751.2,120.3 1751.8,13.3 1752,-79.7 1758.5,-79.7 1758.8,13.3 1759,120.3 1760.6,240.3 1761.2,278.3 1762.8,290.3 1764,277.3 1765,299.3 1766,285.3" fill="none" stroke="#6b5a08" stroke-width="1.6" stroke-linejoin="round" stroke-linecap="butt"/>
<polyline clip-path="url(#c1)" points="96.2,117.3 100,124 103.8,127.8 106.2,120.3 109.2,114.8 112.5,122.8 116.2,135.8 119.5,130.8 121.2,128.3 123,145.3 125.5,159.6 127,157.8 130,127.8 131.2,122.8 135.5,126.5 140,117.8 143.8,111.5 147.5,110.3 149.5,97.8 151.2,105.3 153,112.8 155,129.6 157.5,120.3 160,110.3 162.5,105.8 165,107.3 167.5,111.5 170.5,115.8 175,111.5 178.8,112.8 183.8,113.3 187.5,110.3 192.5,108.3 197.5,111.5 202.5,110.3 207.5,107.3 212.5,104 216.2,109 222,105.3 223.8,115.3 226.2,129.1 228,125.3 230,116.5 232,115.3 233.8,130.3 236.8,157.3 238.8,140.3 240,100.3 241.2,50.3 242,34.8 243.2,62.8 244.5,72.8 246,105.3 247.5,139.1 249,112.8 252.5,109 256.2,105.3 260,107.8 265,107.3 270,105.3 273.8,104 275,107.8 277,125.3 279.5,140.3 281.2,137.8 283.8,122.8 287.5,107.8 292.5,106.5 297,103.3 298.8,107.8 301.2,117.8 303.8,120.3 306.2,113.3 308,114 310.8,121.5 313,119 315.5,110.3 318.8,104 322.5,102.3 326.2,104 330,102.8 332,110.3 334.5,140.3 337,156.6 338.8,155.3 341.2,125.3 343.8,101.5 348.8,100.3 350.8,85.3 352,92.8 353,62.8 354,50.8 355.5,72.8 357,74 358,95.3 359.2,119 360.5,102.8 363.8,100.3 366.2,100.3 368,110.3 370,137.8 372,152.1 373.8,142.8 376.2,115.3 378.8,100.3 382.5,97.8 387.5,96.5 391.2,99 396.2,102.8 400,99 405,97.3 410,102.8 413.8,110.3 416.2,112.8 418.8,106.5 421.2,104 423.8,112.8 426.2,119 428,117.8 429,50.3 430,13.3 430.8,-74.7 434.2,-74.7 435,13.3 436,75.3 437,119.8 438,100.3 440,100.3 442,99 444,96 446.2,101.5 450,99.8 455,101 460,100.8 464.5,101.5 467,110.3 469.5,132.8 471.8,139.6 473.8,130.3 475.5,114 478,110.3 481.2,113.3 485,107.8 488,104.8 491.2,105.3 495,110.3 498,114 501.2,118.3 505,116.5 508.8,115.3 512.5,114 515.5,108.5 518,114 520.5,129.1 522.5,132.8 524.5,127.8 527,115.3 530,112.8 533,114.8 535,112.8 538,115.8 540.5,116.5 543,110.8 545,109.8 547,115.3 549.5,132.8 551.8,139.8 553.8,137.3 556.2,122.8 558.8,111.5 561.2,108.5 563.8,112.8 566.2,120.3 568.8,142.8 572,165.3 573.8,160.3 576.2,140.3 578.8,127.8 582.5,124.5 585,122.3 587,116.5 588,82.8 589.2,61.5 590.5,75.3 592.5,79 593.5,107.8 594.5,135.3 595.5,122.8 597.5,124 600,125.3 602.5,117.3 606.2,119 610,116 613,117.8 615.5,117.3 617.5,124 620.5,122.8 622.5,114.5 625,115.3 627,111.5 630,112.3 632,107.8 635,110.3 637.5,114 640.5,109.8 642.5,110.3 645.5,105.8 648,111.5 650.5,110.3 652.5,104 655.5,104.8 657.5,113.3 660,112.8 663,102.8 667,101.5 669,110.3 670.8,108.3 672.5,117.8 674.2,132.8 676.2,138.3 678,127.8 680.5,115.3 683.8,110.3 685.5,110.8 687.5,117.8 690,114 693,115.3 696.2,112.3 698.8,110.3 701.2,105.8 703,114 706.2,116.5 708,106.5 710,105.3 712.5,99.8 714.5,105.3 717.5,108.3 720,102.3 723.8,102 725.5,107.8 727.5,125.3 730,162.8 732,187.8 733.5,194.1 735,185.3 737,155.3 739.5,125.3 741.2,115.3 743.8,105.3 746.2,103.3 748.8,106.5 751.2,115.3 753,117.8 755,130.3 757,162.8 758.8,210.3 760,227.8 761.5,220.3 763,180.3 765,137.8 767,120.3 769.5,117.3 772.5,115.3 775.5,110.3 778.8,106.5 781.8,100.8 783.8,109.5 786.2,108.3 788.8,101.5 791.2,104 795,106.5 797.5,117.8 800.5,129.1 802.5,115.3 805,110.3 807,110.8 808.8,117.8 810.5,140.3 812.5,180.3 814,220.3 815.5,244.6 817,225.3 819,180.3 821.2,140.3 823,130.3 824.5,145.3 826.2,170.3 828,184.8 829.5,170.3 832,140.3 834.5,115.3 836.8,102.3 838.8,112.8 840.8,130.3 842.5,139.8 844.5,122.8 847,105.3 849.5,95.3 851.8,94 853.8,108.3 856.2,99 858.8,94.8 860.8,104.8 865,104 868,118.3 871.2,117.3 873,102.8 874.5,99 876.2,112.8 878.8,128.3 880.5,122.8 882.5,132.8 885,146.6 887,127.8 889.2,114 891.2,129.8 893.8,129.1 896.2,112.8 898.8,117.8 901.2,115.3 903.8,106.5 906.2,107.8 909.5,102.8 911.8,92.3 913.8,102.8 916.2,106.5 918,101.5 920,107.8 921.8,120.3" fill="none" stroke="#be0008" stroke-width="1.6" stroke-linejoin="round" stroke-linecap="butt"/>
<polyline clip-path="url(#c2)" points="940.5,110.3 942,104.8 943.8,109 945.5,114 947.5,114 949.5,112.3 951.2,114 953,120.3 955,126.5 957,129.1 959,126.5 961,127.8 963,127 965,122.8 967,112.8 968.8,112.3 970.5,117.8 972.5,127.8 974.5,129.8 976.5,124 978.8,112.8 981.2,109 983.8,104 986.2,100.3 988.8,101.5 991.2,105.3 993.8,112.3 996.2,110.3 998.8,112.8 1000.5,114.8 1003,111.5 1005.5,109 1008,105.3 1010.5,103.5 1012.5,106.5 1014.5,107.3 1016.5,111.5 1018.5,112.8 1020,127.8 1021.5,152.8 1023,172.8 1024.5,180.8 1026,170.3 1027.5,147.8 1029,127.8 1030.5,115.8 1032,117.8 1033.5,105.3 1035,90.3 1036,80.3 1037,75.3 1038.2,82.8 1039.5,95.3 1040.8,105.3 1042,112.8 1042.8,87.8 1043.5,50.3 1044.2,13.3 1044.8,-74.7 1051.8,-74.7 1052.2,13.3 1053,50.3 1054,80.3 1055,97.8 1056.5,106.5 1058,110.3 1059.5,116.5 1060.5,119 1062,115.3 1063.8,110.3 1066.2,111.5 1068.8,109 1071.2,107.8 1073,111.5 1075,107.8 1077,100.3 1078.8,103.3 1080.5,101.5 1082.5,100.3 1085,98.3 1087,102.8 1089,104 1091.2,106.5 1093,102.8 1094.2,105.3 1095.2,114 1096.2,100.3 1097.5,75.3 1099,50.3 1100.2,13.3 1100.8,-74.7 1104.5,-74.7 1105,13.3 1106,50.3 1107,75.3 1108.5,87.8 1110,100.3 1112,109 1114.5,114 1116.5,107.8 1118.8,100.3 1121.2,104 1123.8,109 1125.5,110.3 1128,106.5 1130.5,102.8 1133,100.8 1135.5,96.5 1137.5,101.5 1139.5,106.5 1142,105.3 1144.5,105.3 1146,117.8 1147.5,137.8 1149,152.8 1150.5,159.1 1152,150.3 1153.5,130.3 1155,112.8 1157,105.3 1158.8,102.3 1160.5,106.5 1162.5,110.3 1164.5,117.3 1167,115.3 1169,110.3 1171,104 1172.5,92.8 1174,84.8 1175.5,84 1177,91.5 1178.5,87.8 1180,77.8 1181.8,68.3 1183,75.3 1184,81.5 1185.5,79.8 1187.5,84 1189.5,94 1191,100.3 1193,96.5 1195,94.8 1197,100.3 1199.5,95.3 1201.5,96.5 1203.5,101.5 1205.5,105.3 1207,108.3 1209,102.8 1211,99 1213.5,95.3 1215.5,96.5 1217.5,98.3 1219.5,99.8 1221.5,98.3 1223.5,102.8 1225.5,106.5 1228,105.8 1230,100.3 1232,97.8 1234,91.5 1236,89.8 1237.5,96.5 1239.5,102.8 1241.5,105.3 1243.5,110.3 1245.5,117.3 1247.5,114 1248.8,109.5 1250,117.8 1251.5,145.3 1253,165.3 1255,175.3 1256.5,170.3 1258,155.3 1260,136.6 1262,129.1 1263.5,117.8 1265,107.8 1266.5,103.3 1268.5,104 1270.5,110.3 1272.5,107.8 1274.5,102.8 1277,99.8 1279,105.3 1281,109 1283,114.8 1285.5,112.8 1287.5,109 1290,107.3 1292,106.5 1293.5,117.8 1295,127.8 1297,132.3 1299,130.3 1301,117.8 1302.5,109 1304.5,105.3 1306.5,100.3 1308.5,102.3 1310.5,104.8 1312.5,102.3 1314.5,104 1316.5,101.5 1318.5,99.8 1320.5,102.3 1322.5,100.3 1324.5,101.5 1326,107.8 1327.5,112.8 1329.5,107.8 1331.5,102.8 1333.5,102.3 1335.5,107.8 1337,112 1339,106.5 1341.9,107.2 1343.1,110.9 1345,110.3 1346.2,101.5 1347.8,100.9 1349.4,102.2 1350.6,111.5 1352.5,114 1354.4,112.8 1355.6,111.5 1357.5,104.7 1359.4,104 1360.6,108.4 1361.9,110.9 1364.4,111.5 1366,102.8 1367.2,108.4 1368.5,109 1369.8,121.5 1371,115.9 1372.5,117.8 1374.4,119.3 1376.2,119 1378.1,115.3 1379.8,114 1381.2,115.3 1383.1,113.4 1384.4,114 1385.6,120.3 1386.9,125.3 1388.1,131.6 1389.4,127.8 1391.2,122.8 1392.5,126.5 1393.8,128.4 1395.6,130.9 1396.9,129.1 1398.1,130.3 1400,125.9 1401.9,122.8 1403.5,125 1405,127.8 1406.9,123.4 1408.5,121.5 1409.8,127.8 1411,134.1 1412.5,136.6 1414,140.3 1415.6,145.3 1417.2,144.7 1418.8,146.6 1420,148.4 1421.2,150.9 1422.5,145.9 1424,144.7 1425.6,144.1 1426.9,140.3 1428.2,138.4 1429.2,145.3 1430.2,154.1 1431.2,159.1 1432.5,163.4 1433.8,160.9 1435,164.1 1436.2,166.6 1437.2,172.8 1438.1,174.3 1439.4,172.8 1441,171.6 1442.5,170.9 1444.4,167.8 1446,164.1 1447.5,163.4 1449.4,161.6 1451.2,162.2 1452.5,161.6 1454.4,157.8 1456.2,154.1 1458.1,152.2 1459.4,154.1 1460.6,156.6 1462.5,155.3 1464.4,152.2 1465.6,147.8 1466.9,142.8 1468.5,140.3 1470,140.9 1471.9,137.8 1473.5,135.3 1475,134.7 1476.9,135.9 1478.5,133.4 1480,132.8 1481.5,135.3 1482.8,140.3 1484,144.7 1485.2,145.9 1486.9,141.6 1488.8,137.2 1490,132.8 1491.5,129.1 1493.1,127.2 1495,126.5 1496.9,123.4 1498.1,116.5 1499,111.5 1500,110.3 1501.2,115.3 1502.5,120 1504,119 1505.2,120.3 1506.5,127.8 1508.1,130.9 1509.8,134.1 1511,137.8 1512.2,139.3 1513.5,137.8 1515,127.8 1516.5,117.8 1518.1,112.2 1519.4,107.2 1520.6,106.3 1521.9,111.5 1523.1,119 1524,122.5 1525,115.3 1526.2,109.7 1527.5,109 1529,111.5 1530,116.5 1531,127.8 1531.8,142.8 1532.2,148.4 1533.1,134.1 1533.8,105.3 1534.5,80.3 1535.6,13.3 1536.2,-59.7 1538.3,-59.7 1538.8,13.3 1541,50.3 1542.5,75.3 1545,100.3 1547.5,114 1549.5,107.8 1551.5,102.8 1553.5,101.5 1555.5,104 1557.5,101.5 1559.5,103.3 1561,110.3 1562,117.8 1563.5,110.3 1565,104 1566.5,107.8 1568,104 1570,101.5 1572,100.3 1573,86.5 1574,110.3 1575,72.8 1576,87.8 1577,75.3 1578,64 1579,95.3 1580.5,102.8 1582.5,109 1584.5,111.5 1586.5,110.3 1588.5,103.3 1590,104 1591.5,110.3 1593,112.8 1594.5,105.3 1596.5,103.3 1598,104 1599.5,114 1601.5,115.3 1603.5,118.3 1605.5,110.3 1607.5,102.8 1609.5,96.5 1611.5,92.8 1613.5,93.3 1615.5,94.8 1617.5,95.3 1619.5,88.3 1621.5,87.8 1623.5,92.8 1625,105.3 1626.5,117.8 1628,122.8 1630,122.8 1632,112.8 1634,107.8 1636,107.3 1638,110.3 1640,115.3 1642,117.8 1644,111.5 1646,106.5 1648,104.8 1650,102.8 1652,99 1654,102.8 1656,98.3 1658,95.3 1660,100.3 1662,107.8 1664,112.8 1666,109 1668,105.3 1670,107.8 1672,101.5 1674,96.5 1676,100.3 1678,104 1680,102.8 1682,105.3 1684,104 1686,101.5 1687.5,99.8 1689,105.3 1691,113.3 1693,110.3 1695,106.5 1697,101.5 1699,105.3 1701,106.5 1703,109 1705,110.3 1707,115.3 1709,125.3 1711,140.3 1713,160.3 1715,185.3 1716.5,197.8 1718,190.3 1719.5,170.3 1721,150.3 1722.5,130.3 1724,115.3 1725.5,112.8 1727.5,109 1729,110.3 1730,121.5 1731.5,120.3 1732.5,87.8 1733.5,62.8 1734.5,49 1735.5,54 1736.5,75.3 1737.5,105.3 1737,120.3 1738.8,185.3 1740,240.3 1741,307.3 1741.9,240.3 1743.1,120.3 1743.2,13.3 1743.3,-59.7 1751.3,-59.7 1751.5,13.3 1752.5,60.3 1753.8,110.3 1755.5,101.3 1758,93.3 1760,96.3 1762,101.3 1764,99.3 1766.5,93.3" fill="none" stroke="#be0008" stroke-width="1.6" stroke-linejoin="round" stroke-linecap="butt"/>
<g font-size="26.6" fill="#000" text-anchor="middle">
<text x="252.3" y="921.1">15600</text>
<text x="418.2" y="921.1">15650</text>
<text x="584" y="921.1">15700</text>
<text x="749.8" y="921.1">15750</text>
<text x="915.6" y="921.1">15800</text>
<text x="1073.3" y="921.1">16700</text>
<text x="1238.5" y="921.1">16750</text>
<text x="1403.7" y="921.1">16800</text>
<text x="1568.9" y="921.1">16850</text>
<text x="1734.1" y="921.1">16900</text>
</g>
<g font-size="26.6" fill="#000" text-anchor="end">
<text x="88.9" y="120.2">1.6</text>
<text x="88.9" y="249.6">1.4</text>
<text x="88.9" y="379">1.2</text>
<text x="88.9" y="508.5">1.0</text>
<text x="88.9" y="637.9">0.8</text>
<text x="88.9" y="767.3">0.6</text>
<text x="88.6" y="888">0.4</text>
</g>
<text x="509" y="950.2" font-size="26.6" text-anchor="middle">Wavelength [<tspan font-family="Liberation Sans,Arial,sans-serif">Å</tspan>]</text>
<text x="1354" y="950.2" font-size="26.6" text-anchor="middle">Wavelength [<tspan font-family="Liberation Sans,Arial,sans-serif">Å</tspan>]</text>
<text transform="translate(35.0 504.2) rotate(-90)" font-size="26.8">F<tspan font-size="16.5" dy="5.9">data</tspan><tspan dy="-5.9"> / F</tspan><tspan font-size="16.5" dy="5.9">cont</tspan></text>
<text x="1776" y="115" font-size="26.6" fill="#be0008">55723 (23)</text>
<text x="1776" y="308.7" font-size="26.6" fill="#6b5a08">55703 (3)</text>
<text x="1776" y="502.5" font-size="26.6" fill="#23066b">55700</text>
<g font-size="21.2" fill="#000">
<text x="172.5" y="854" textLength="206.5" lengthAdjust="spacing">2M17090247−2311357,</text>
<text x="401.5" y="854" textLength="89.5" lengthAdjust="spacing">H=10.773,</text>
<text x="514.5" y="854" textLength="68.5" lengthAdjust="spacing">000+10,</text>
<text x="606.5" y="854" textLength="60" lengthAdjust="spacing">3 visits</text>
</g>
</svg></body></html>
